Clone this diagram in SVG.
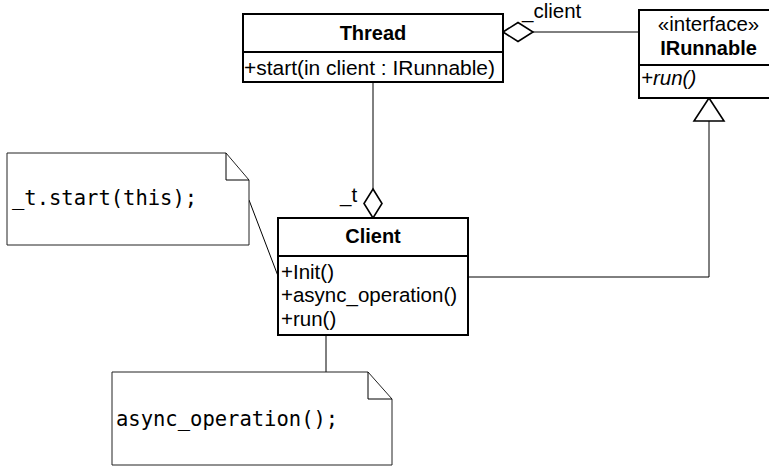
<svg xmlns="http://www.w3.org/2000/svg" width="769" height="466" viewBox="0 0 769 466">
<style>
.box{fill:#fff;stroke:#000;stroke-width:2}
.div{stroke:#000;stroke-width:2}
.note{fill:#fff;stroke:#222;stroke-width:1}
.ln{fill:none;stroke:#000;stroke-width:1}
.head{fill:#fff;stroke:#000;stroke-width:1.6}
.t{font-family:"Liberation Sans",Arial,sans-serif;font-size:20.5px;fill:#000}
.b{font-weight:bold;font-size:20px}
.i{font-style:italic}
.m{font-family:"DejaVu Sans Mono",monospace;font-size:20.5px;fill:#000}
</style>
<rect width="769" height="466" fill="#fff"/>
<g id="connectors">
<line class="ln" x1="373" y1="82" x2="373" y2="189"/>
<line class="ln" x1="533" y1="32" x2="639" y2="32"/>
<polyline class="ln" points="468,277 709,277 709,121"/>
<line class="ln" x1="249" y1="200" x2="278" y2="276"/>
<line class="ln" x1="326" y1="335" x2="326" y2="372"/>
<polygon class="head" points="503,32 518,22.5 533,32 518,41.5"/>
<polygon class="head" points="373,189 382,203.5 373,218 364,203.5"/>
<polygon class="head" points="709,98 724,121 694,121"/>
<text class="t" x="522" y="18">_client</text>
<text class="t" x="340" y="202">_t</text>
</g>
<g id="Thread">
<rect class="box" x="243" y="14" width="260" height="68"/>
<line class="div" x1="243" y1="52" x2="503" y2="52"/>
<text class="t b" x="373" y="40" text-anchor="middle">Thread</text>
<text class="t" x="244" y="75" textLength="251" lengthAdjust="spacingAndGlyphs">+start(in client : IRunnable)</text>
</g>
<g id="IRunnable">
<rect class="box" x="639" y="10" width="140" height="88"/>
<line class="div" x1="639" y1="65" x2="779" y2="65"/>
<text class="t" x="708.5" y="31" text-anchor="middle">«interface»</text>
<text class="t b" x="708.5" y="55" text-anchor="middle">IRunnable</text>
<text class="t i" x="641" y="85">+run()</text>
</g>
<g id="Client">
<rect class="box" x="278" y="218" width="190" height="117"/>
<line class="div" x1="278" y1="256" x2="468" y2="256"/>
<text class="t b" x="373" y="243" text-anchor="middle">Client</text>
<text class="t" x="281" y="279">+Init()</text>
<text class="t" x="281" y="302">+async_operation()</text>
<text class="t" x="281" y="326">+run()</text>
</g>
<g id="note1">
<path class="note" d="M7,153 H226 L249,180 V245 H7 Z"/>
<path class="ln" d="M226,153 V180 H249" stroke="#222"/>
<text class="m" x="12" y="205">_t.start(this);</text>
</g>
<g id="note2">
<path class="note" d="M112,372 H368 L392,399 V465 H112 Z"/>
<path class="ln" d="M368,372 V399 H392" stroke="#222"/>
<text class="m" x="116" y="426">async_operation();</text>
</g>
</svg>
